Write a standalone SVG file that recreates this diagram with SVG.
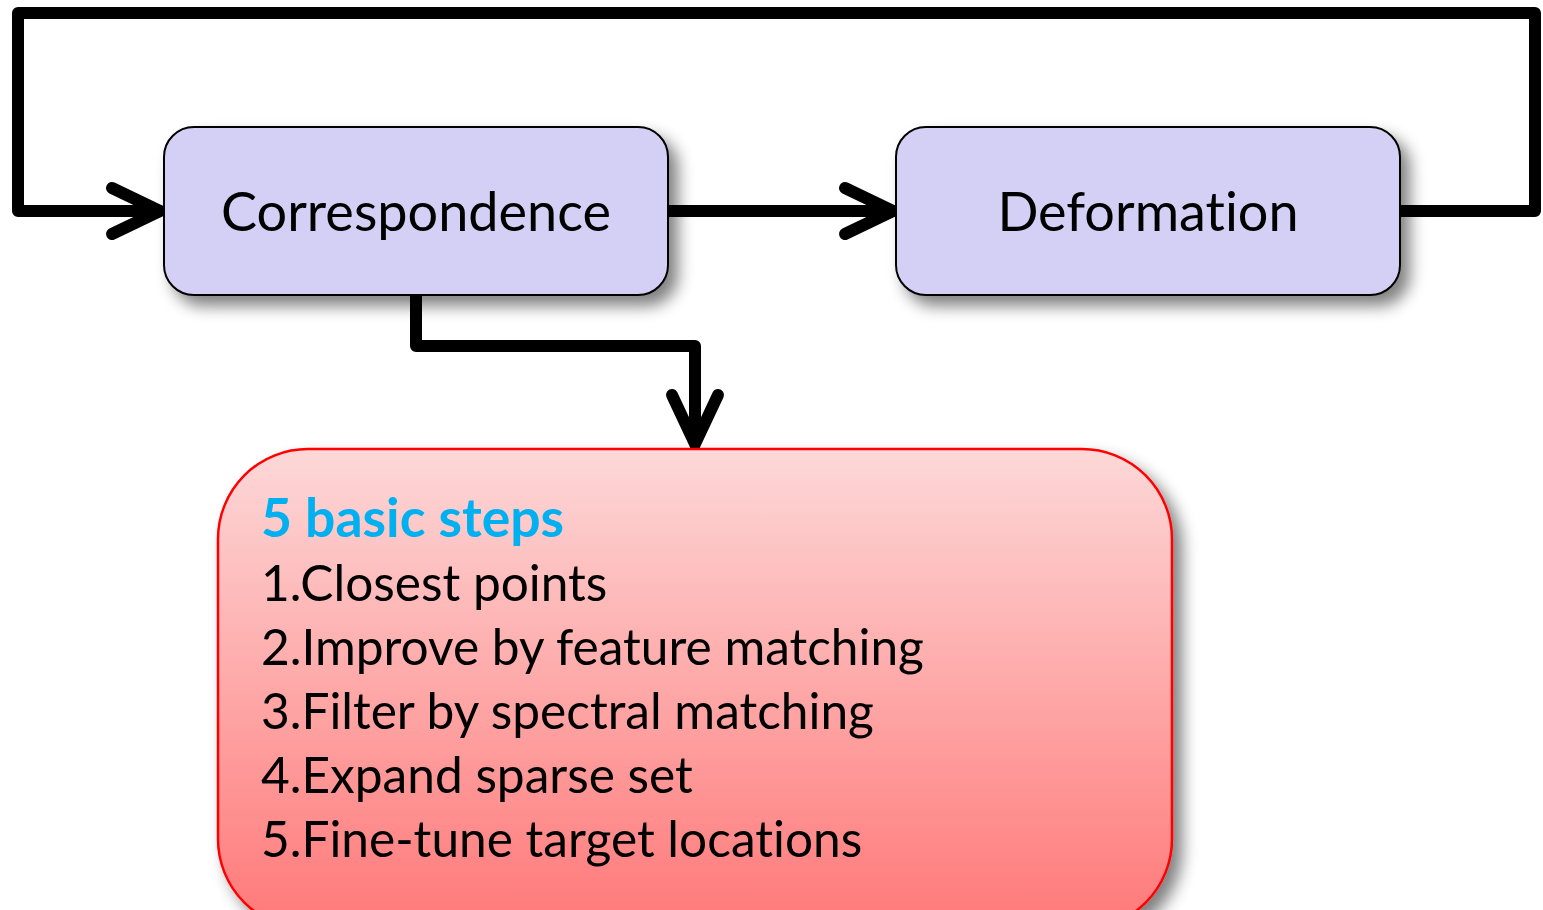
<svg xmlns="http://www.w3.org/2000/svg" width="1543" height="910" viewBox="0 0 1543 910">
  <style>
    text { font-variant-ligatures: none; font-feature-settings: "liga" 0, "dlig" 0; }
    .box { fill: #d4d0f5; stroke: #000; stroke-width: 2; }
    .label { font-family: Lato, "Open Sans", sans-serif; font-size: 54px; fill: #000; text-anchor: middle; }
    .wire { fill: none; stroke: #000; stroke-width: 12; stroke-linejoin: round; stroke-linecap: butt; }
    .head { fill: none; stroke: #000; stroke-width: 12; stroke-linecap: round; stroke-linejoin: miter; }
    .step { font-family: Lato, "Open Sans", sans-serif; font-size: 49.6px; fill: #000; }
    .title { font-family: Lato, "Open Sans", sans-serif; font-size: 53.5px; font-weight: bold; fill: #00b0f0; }
  </style>
  <defs>
    <filter id="shadow" x="-10%" y="-20%" width="130%" height="150%">
      <feGaussianBlur in="SourceAlpha" stdDeviation="8"/>
      <feOffset dx="9" dy="10" result="b"/>
      <feComponentTransfer><feFuncA type="linear" slope="0.5"/></feComponentTransfer>
      <feMerge><feMergeNode/><feMergeNode in="SourceGraphic"/></feMerge>
    </filter>
    <linearGradient id="redFill" x1="0" y1="0" x2="0" y2="1">
      <stop offset="0" stop-color="#fdd8d8"/>
      <stop offset="1" stop-color="#ff7878"/>
    </linearGradient>
  </defs>

  <g id="connectors">
    <!-- feedback loop from Deformation back to Correspondence -->
    <path class="wire" d="M1400 211 H1535 V13 H18 V211 H160"/>
    <path class="head" d="M112 188 L160 211 L112 234"/>
    <!-- Correspondence to Deformation -->
    <path class="wire" d="M668 211 H892"/>
    <path class="head" d="M845 188 L893 211 L845 234"/>
    <!-- Correspondence down to step list -->
    <path class="wire" d="M416 295 V346 H695 V444"/>
    <path class="head" d="M672 395 L695 444 L718 395"/>
  </g>

  <g id="correspondence">
    <rect class="box" x="164" y="127" width="504" height="168" rx="30" filter="url(#shadow)"/>
    <text class="label" x="416" y="231">Correspondence</text>
  </g>

  <g id="deformation">
    <rect class="box" x="896" y="127" width="504" height="168" rx="30" filter="url(#shadow)"/>
    <text class="label" x="1148" y="231">Deformation</text>
  </g>

  <g id="steps">
    <rect x="218" y="449" width="954" height="480" rx="90" fill="url(#redFill)" stroke="#ff0000" stroke-width="2.5" filter="url(#shadow)"/>
    <text class="title" x="261" y="537">5 basic steps</text>
    <text class="step" x="261" y="601">1.Closest points</text>
    <text class="step" x="261" y="665">2.Improve by feature matching</text>
    <text class="step" x="261" y="729">3.Filter by spectral matching</text>
    <text class="step" x="261" y="793">4.Expand sparse set</text>
    <text class="step" x="261" y="857">5.Fine-tune target locations</text>
  </g>
</svg>
